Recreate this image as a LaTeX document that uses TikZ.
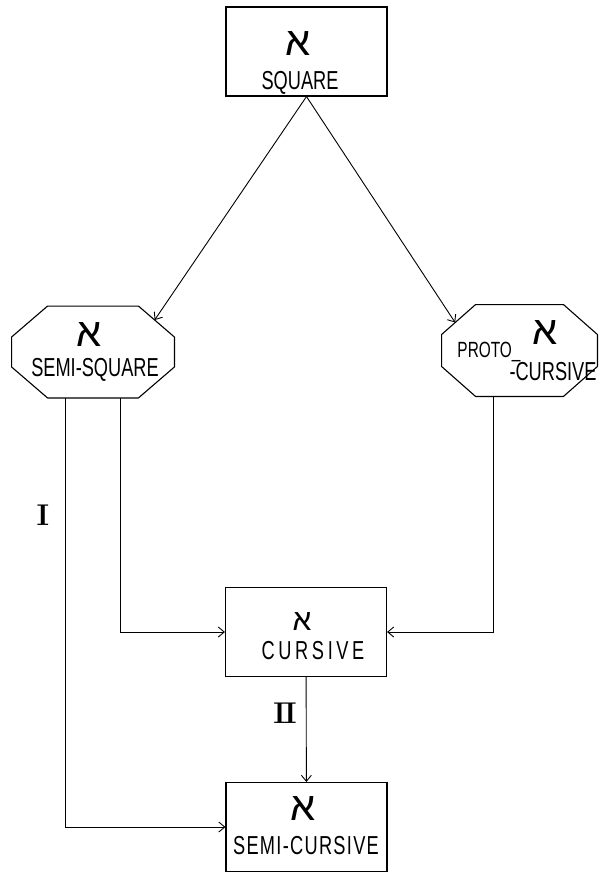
\documentclass[tikz,border=0pt]{standalone}
\usepackage{fontspec}
\newfontfamily\labelfont[FakeStretch=0.7]{Liberation Sans}
\newfontfamily\hebfont[Script=Hebrew]{Liberation Sans}
\usetikzlibrary{arrows.meta, calc, positioning}

% octagon drawn round a plain node: #1 name, #2 chamfer in x, #3 chamfer in y
\newcommand{\drawoct}[3]{%
    \draw [octline] ([xshift=#2]#1.north west) -- ([xshift=-#2]#1.north east) -- ([yshift=-#3]#1.north east)
        -- ([yshift=#3]#1.south east) -- ([xshift=-#2]#1.south east) -- ([xshift=#2]#1.south west)
        -- ([yshift=#3]#1.south west) -- ([yshift=-#3]#1.north west) -- cycle;}

\begin{document}
\begin{tikzpicture}[x=1pt, y=-1pt, >={Straight Barb[length=6pt, width=10pt]}, line width=0.9pt,
    stagebox/.style={draw, line width=1.1pt, rectangle, minimum width=161pt, minimum height=89pt, inner sep=0pt},
    octbox/.style={rectangle, inner sep=0pt},
    octline/.style={line width=1.1pt, line join=round},
    glyph/.style={font=\hebfont\fontsize{40}{40}\selectfont, inner sep=0pt},
    caption/.style={font=\labelfont\fontsize{26}{26}\selectfont, inner sep=0pt},
    numeral/.style={font=\bfseries\fontsize{30}{30}\selectfont, inner sep=0pt}]
    \useasboundingbox (0, 0) rectangle (599, 872);

    % boxes
    \node [stagebox] (square) at (306.5, 51.5) {};
    \node [octbox, minimum width=162pt, minimum height=91pt] (semi) at (93, 352) {};
    \node [octbox, minimum width=155pt, minimum height=91pt] (proto) at (519.5, 350.5) {};
    \drawoct{semi}{36pt}{31pt}
    \drawoct{proto}{34pt}{30pt}
    \node [stagebox] (cursive) at (306, 632) {};
    \node [stagebox] (semicur) at (306.5, 827) {};

    % texts
    \node [glyph] (square-glyph) at (298, 44) {א};
    \node [caption] (square-text) at (300, 83) {SQUARE};
    \node [glyph] (semi-glyph) at (89, 335) {א};
    \node [caption] (semi-text) at (95, 370) {SEMI-SQUARE};
    \node [glyph] (proto-glyph) at (545, 333) {א};
    \node [caption, font=\labelfont\fontsize{22}{22}\selectfont] (proto-text) at (489, 352) {PROTO\_};
    \node [caption] (proto-text2) at (553, 372) {-CURSIVE};
    \node [glyph, font=\hebfont\fontsize{30}{30}\selectfont] (cursive-glyph) at (302, 622) {א};
    \node [caption, font=\labelfont\fontsize{26}{26}\selectfont\addfontfeature{LetterSpace=14}] (cursive-text) at (313, 651) {CURSIVE};
    \node [glyph] (semicur-glyph) at (303, 809) {א};
    \node [caption, font=\labelfont\fontsize{26}{26}\selectfont\addfontfeature{LetterSpace=5}] (semicur-text) at (306, 846) {SEMI-CURSIVE};

    \node [numeral] (lab-one) at (43, 515) {I};
    \node [numeral] (lab-two) at (285, 713) {I\kern-2pt I};

    % connectors
    \draw [->] (square.south) -- ($([xshift=-36pt]semi.north east)!0.45!([yshift=-31pt]semi.north east)$);
    \draw [->] (square.south) -- ($([yshift=-30pt]proto.north west)!0.4!([xshift=34pt]proto.north west)$);
    \draw [->] ([xshift=-28pt]semi.south) |- (semicur.west);
    \draw [->] ([xshift=27pt]semi.south) |- (cursive.west);
    \draw [->] ([xshift=-26.5pt]proto.south) |- (cursive.east);
    \draw [->] (cursive) -- (semicur);
\end{tikzpicture}
\end{document}
